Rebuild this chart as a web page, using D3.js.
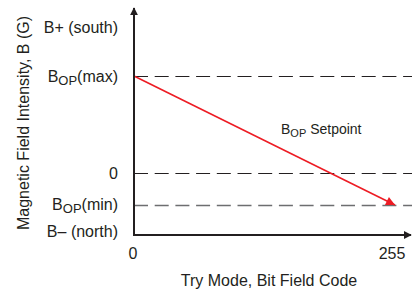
<!DOCTYPE html>
<html>
<head>
<meta charset="utf-8">
<script src="https://cdn.jsdelivr.net/npm/d3@7"></script>
<style>
  body { margin: 0; background: #fff; }
  text { font-family: "Liberation Sans", Arial, sans-serif; fill: #231f20; }
</style>
</head>
<body>
<div id="chart"></div>
<script>
// y levels (arbitrary gauss units)
const levelNames = ["south", "max", "zero", "min", "north"];
const levelValues = [4.7, 3.13, 0, -1.03, -1.9];
const levelLabels = [
    [["B+ (south)", false]],
    [["B", false], ["OP", true], ["(max)", false]],
    [["0", false]],
    [["B", false], ["OP", true], ["(min)", false]],
    [["B\u2013 (north)", false]]
];
// dashed reference levels
const dashedLevels = [3.13, 0, -1.03];
const dashedColors = ["#231f20", "#231f20", "#6d6e70"];
// setpoint line: code -> field
const setpointCodes = [0, 255];
const setpointValues = [3.13, -1.03];
const xTicks = [0, 255];

const width = 412, height = 290;
const x = d3.scaleLinear().domain([0, 255]).range([134, 395]);
const y = d3.scaleLinear().domain([-2, 5.26]).range([235, 10]);
const snap = v => Math.round(v) + 0.5;

const svg = d3.select("#chart").append("svg")
    .attr("width", width)
    .attr("height", height);

const defs = svg.append("defs");
defs.append("marker").attr("id", "axArrow")
    .attr("viewBox", "0 0 10 10").attr("refX", 9).attr("refY", 5)
    .attr("markerWidth", 8).attr("markerHeight", 8)
    .attr("markerUnits", "userSpaceOnUse")
    .attr("orient", "auto")
    .append("path").attr("d", "M0,0 L10,5 L0,10 z").attr("fill", "#231f20");
defs.append("marker").attr("id", "redArrow")
    .attr("viewBox", "0 0 10 10").attr("refX", 10).attr("refY", 5)
    .attr("markerWidth", 14).attr("markerHeight", 9)
    .attr("markerUnits", "userSpaceOnUse")
    .attr("orient", "auto")
    .append("path").attr("d", "M0,0 L10,5 L0,10 z").attr("fill", "#ed1c24");

// dashed lines
svg.append("g").selectAll("line")
    .data(dashedLevels).enter()
    .append("line")
    .attr("x1", x(0)).attr("x2", width)
    .attr("y1", d => snap(y(d))).attr("y2", d => snap(y(d)))
    .attr("stroke", (d, i) => dashedColors[i])
    .attr("stroke-width", (d, i) => i === 2 ? 1.4 : 1)
    .attr("stroke-dasharray", "14,6.7");

// setpoint line
const pts = setpointCodes.map((c, i) => [x(c), y(setpointValues[i])]);
svg.append("path")
    .attr("d", d3.line()(pts))
    .attr("stroke", "#ed1c24")
    .attr("stroke-width", 1.6)
    .attr("fill", "none")
    .attr("marker-end", "url(#redArrow)");

// axes
svg.append("line")
    .attr("x1", x(0)).attr("x2", x(0))
    .attr("y1", y(-2) + 1).attr("y2", 8)
    .attr("stroke", "#231f20").attr("stroke-width", 2)
    .attr("marker-end", "url(#axArrow)");
svg.append("line")
    .attr("x1", x(0) - 1).attr("x2", 411)
    .attr("y1", y(-2)).attr("y2", y(-2))
    .attr("stroke", "#231f20").attr("stroke-width", 2)
    .attr("marker-end", "url(#axArrow)");

// y level labels
const yl = svg.append("g").selectAll("text")
    .data(levelLabels).enter()
    .append("text")
    .attr("x", 118)
    .attr("y", (d, i) => y(levelValues[i]) + 5.5)
    .attr("text-anchor", "end")
    .attr("font-size", 16);
yl.each(function (parts) {
    const t = d3.select(this);
    parts.forEach(p => {
        if (p[1]) {
            t.append("tspan").attr("font-size", 13).attr("dy", 3).text(p[0]);
        } else {
            const s = t.append("tspan").text(p[0]);
            if (t.selectAll("tspan").size() > 1) s.attr("dy", -3);
        }
    });
});

// x ticks
svg.append("g").selectAll("text")
    .data(xTicks).enter()
    .append("text")
    .attr("x", d => x(d) - (d === 0 ? 1 : 3))
    .attr("y", 259)
    .attr("text-anchor", "middle")
    .attr("font-size", 16)
    .text(d => d);

// titles
svg.append("text")
    .attr("x", 269).attr("y", 286)
    .attr("text-anchor", "middle")
    .attr("font-size", 16)
    .text("Try Mode, Bit Field Code");

svg.append("text")
    .attr("transform", "translate(29,123) rotate(-90)")
    .attr("text-anchor", "middle")
    .attr("font-size", 16)
    .text("Magnetic Field Intensity, B (G)");

// setpoint annotation
const ann = svg.append("text")
    .attr("x", 281).attr("y", 134)
    .attr("font-size", 14);
ann.append("tspan").text("B");
ann.append("tspan").attr("font-size", 11).attr("dy", 3).text("OP");
ann.append("tspan").attr("dy", -3).text(" Setpoint");
</script>
</body>
</html>
